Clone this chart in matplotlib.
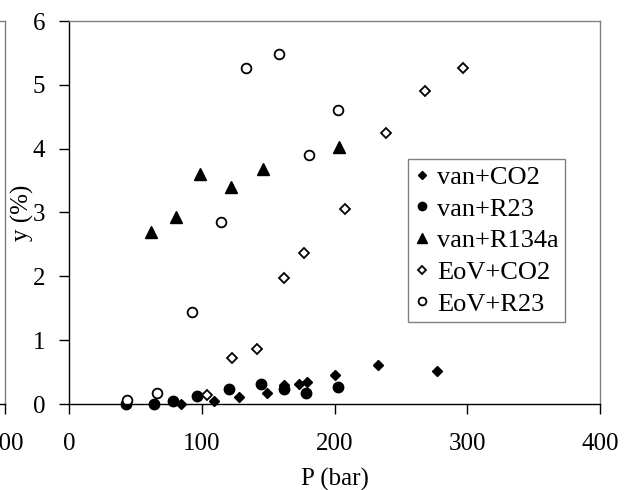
import matplotlib
matplotlib.use('Agg')
import matplotlib.pyplot as plt

plt.rcParams['font.family'] = ['Liberation Serif', 'DejaVu Serif']
plt.rcParams['font.size'] = 18

# P (bar) and y (%)
van_co2_p = [84.6, 109.2, 127.8, 148.9, 162, 173, 179, 200.6, 233, 277]
van_co2_y = [0.0, 0.05, 0.11, 0.18, 0.30, 0.32, 0.34, 0.45, 0.61, 0.51]

van_r23_p = [42.9, 64.3, 78.3, 96.7, 120.5, 144.4, 162, 178.8, 202.6]
van_r23_y = [0.0, 0.0, 0.04, 0.13, 0.23, 0.32, 0.24, 0.18, 0.26]

van_r134a_p = [61.8, 80.6, 98.9, 121.8, 146.1, 203.6]
van_r134a_y = [2.69, 2.93, 3.61, 3.40, 3.68, 4.02]

eov_co2_p = [103.7, 122.8, 141.4, 161.7, 176.8, 208.2, 238.8, 268.4, 296.5]
eov_co2_y = [0.14, 0.72, 0.86, 1.98, 2.36, 3.05, 4.25, 4.90, 5.27]

eov_r23_p = [43.4, 66.5, 92.7, 114.2, 133.3, 158.0, 180.8, 202.6]
eov_r23_y = [0.06, 0.18, 1.44, 2.85, 5.26, 5.48, 3.90, 4.61]

x_ticks = [0, 100, 200, 300, 400]
y_ticks = [0, 1, 2, 3, 4, 5, 6]

W, H = 630, 490
fig = plt.figure(figsize=(W / 100, H / 100), dpi=100)

# axes box in pixels: x 69..600, y 21..404
ax_l, ax_r, ax_t, ax_b = 69, 600, 21, 404
rect = [ax_l / W, 1 - ax_b / H, (ax_r - ax_l) / W, (ax_b - ax_t) / H]


def style_axes(ax):
    ax.set_xlim(0, 400)
    ax.set_ylim(0, 6)
    ax.set_xticks(x_ticks)
    ax.set_yticks(y_ticks)
    for s in ['left', 'bottom']:
        ax.spines[s].set_color('black')
        ax.spines[s].set_linewidth(1)
    for s in ['top', 'right']:
        ax.spines[s].set_color('#808080')
        ax.spines[s].set_linewidth(1)
    ax.tick_params(axis='x', direction='out', length=7, width=1, pad=14)
    ax.tick_params(axis='y', direction='out', length=7, width=1, pad=10)


# piece of the neighbouring chart, cut off at the left edge
w = ax_r - ax_l
ax0 = fig.add_axes([(5 - w) / W, rect[1], w / W, rect[3]])
style_axes(ax0)
ax0.set_yticklabels([])
ax0.set_xticklabels(['', '', '', '', '400'])

ax = fig.add_axes(rect)
style_axes(ax)

ax.plot(van_co2_p, van_co2_y, linestyle='none', marker='D', ms=5.4,
        color='black', label='van+CO2', clip_on=False)
ax.plot(van_r23_p, van_r23_y, linestyle='none', marker='o', ms=7.5,
        color='black', label='van+R23', clip_on=False)
ax.plot(van_r134a_p, van_r134a_y, linestyle='none', marker='^', ms=8.3,
        color='black', label='van+R134a', clip_on=False)
ax.plot(eov_co2_p, eov_co2_y, linestyle='none', marker='D', ms=5.0,
        mfc='white', mec='black', mew=1.3, label='EoV+CO2', clip_on=False)
ax.plot(eov_r23_p, eov_r23_y, linestyle='none', marker='o', ms=7.0,
        mfc='white', mec='black', mew=1.3, label='EoV+R23', clip_on=False)

ax.set_xlabel('P (bar)')
ax.set_ylabel('y (%)')
ax.xaxis.set_label_coords(0.5, -0.168)
ax.yaxis.set_label_coords(-0.066, 0.5)

leg = ax.legend(loc='upper left', bbox_to_anchor=(408 / W, 1 - 159 / H),
                bbox_transform=fig.transFigure, borderaxespad=0,
                frameon=True, fancybox=False, shadow=False, fontsize=19,
                handlelength=0.55, handletextpad=0.3, borderpad=0.25,
                labelspacing=0.31, markerscale=0.8)
leg.get_frame().set_edgecolor('#808080')
leg.get_frame().set_linewidth(1)
leg.get_frame().set_alpha(1)

fig.savefig('out.png', dpi=100)
